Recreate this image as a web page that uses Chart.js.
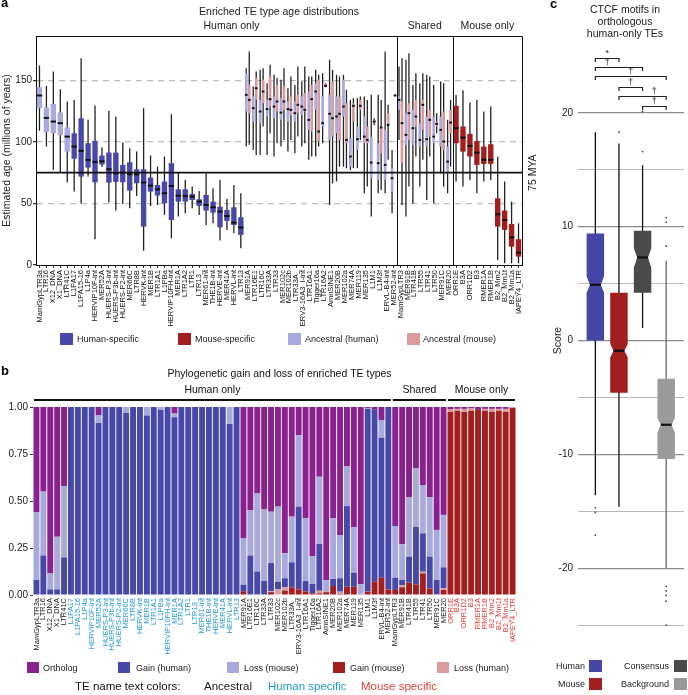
<!DOCTYPE html>
<html>
<head>
<meta charset="utf-8">
<script src="https://cdn.jsdelivr.net/npm/chart.js@4.4.1/dist/chart.umd.min.js"></script>
<style>
  html, body { margin: 0; padding: 0; background: #fff; }
  #fig { position: relative; width: 688px; height: 695px; overflow: hidden; background: #fff;
         font-family: 'Liberation Sans', Arial, sans-serif; color: #222; }
  #fig canvas { position: absolute; }
  .t { position: absolute; white-space: nowrap; line-height: 1; }
  .sw { position: absolute; }
</style>
</head>
<body>
<div id="fig">
  <canvas id="chartA" width="545" height="335" style="left:0;top:0"></canvas>
  <canvas id="chartB" width="545" height="300" style="left:0;top:360px"></canvas>
  <canvas id="chartC" width="143" height="695" style="left:545px;top:0"></canvas>

  <!-- panel letters -->
  <div class="t" style="left:1px;top:-4px;font-size:13px;font-weight:bold;color:#000">a</div>
  <div class="t" style="left:1px;top:364px;font-size:13px;font-weight:bold;color:#000">b</div>
  <div class="t" style="left:550px;top:-3px;font-size:13px;font-weight:bold;color:#000">c</div>

  <!-- panel c title -->
  <div class="t" style="left:565px;top:4px;width:120px;text-align:center;font-size:10.5px;line-height:11.8px">CTCF motifs in<br>orthologous<br>human-only TEs</div>

  <div id="legendA"></div>
  <div id="legendB"></div>
  <div id="legendC"></div>
</div>

<script>
// ---- categories (panels a and b share the same TE order)
const teNames = [
  'MamGypLTR3a','LTR16','X12_DNA','X1_DNA','LTR41C','L1PA17','L1PA15-16','L1P4a','HERVIP10F-int','MER52A',
  'HUERS-P3-int','HUERS-P3b-int','HUERS-P2-int','MER66C','LTR8B','HERVK-int','MER1B','LTR1A1','L1PBa','HERVIP10FH-int',
  'MER1A','LTR1A2','LTR1','LTR13_','MER61-int','THE1B-int','HERVE-int','MER41A','HERVL-int','LTR13',
  'MER91A','LTR16E1','LTR16C','LTR33A','LTR33','MER102c','MER102b','LTR33A_','ERV3-16A3_I-int','LTR16A1',
  'Tigger16a','LTR16A2','AmnSINE1','MER20B','MER102a','MER74A','MER119','MER135','L1M1','L1M3f',
  'ERVL-B4-int','MER52-int','MamGypLTR3','MER91B','LTR41B','LTR55','LTR41','LTR50','MER91C','MER20',
  'ORR1E','B3A','ORR1D2','B3','RMER1A','RMER1B','B2_Mm2','B2_Mm1t','B2_Mm1a','IAPEY4_LTR'
];
// runs of TE class in the order above: ancestral / human specific / mouse specific
const classRuns = [['anc', 5], ['hum', 25], ['anc', 30], ['mou', 10]];
const facetNames = ['Human only', 'Shared', 'Mouse only'];
const facetSizes = [52, 8, 10];
const refAge = 75;

// ---- panel a: estimated age (millions of years), human-side boxes
const ageHumLo = [
  109,96.2,77.2,75,67,59.6,50,71.8,20.9,79.9,
  50.7,44.2,49.6,46.1,56.1,11.7,48,48.8,40.7,21.7,
  39.3,42,46.1,40.7,32.5,33.9,19.8,28.5,25.7,13.6,
  96.2,93.5,89.4,89.4,88.1,96.2,92.1,90.8,96.2,85.4,
  88.1,98.9,48.8,67.8,79.9,77.2,78.6,58.3,39.3,58.3,
  58.3,42,101.6,39.3,50,63.7,52.8,50,74.5,58.3,
  null,null,null,null,null,null,null,null,null,null
];
const ageHumQ1 = [
  127.4,107.9,107,105.4,92.1,86.4,71.8,79.1,67.2,81.6,
  66.9,67.5,67.2,60.4,66.4,31.2,59.6,56.4,50.1,36.6,
  51.5,51.5,52.8,48,44.2,42.5,30.6,35.8,32.5,24.4,
  124.7,116.5,115.2,120.6,119.2,117.9,116.5,116.5,121.9,109.8,
  126,112.5,101.6,107,120.6,79.9,93.5,98.9,70.5,69.1,
  69.1,59.6,126,97.6,97.6,96.2,96.2,98.9,96.2,74.5,
  null,null,null,null,null,null,null,null,null,null
];
const ageHumMed = [
  137.7,119.5,116.5,115.2,104.3,96.2,92.7,85.4,83.7,84.3,
  77.8,74.5,75,73.7,73.7,67,64.5,61.5,58.3,64.2,
  56.4,56.1,55.6,51.5,48.8,46.9,43.4,39.8,34.4,30.4,
  138.2,127.4,124.7,126.6,128.7,123.8,126.6,123.3,128.7,117.9,
  140.9,115.2,122.8,120.6,128.7,88.1,102.2,104.3,83.2,82.7,
  81.3,70.5,134.1,105.7,111.1,101.6,102.2,104.3,109.8,84,
  null,null,null,null,null,null,null,null,null,null
];
const ageHumQ3 = [
  144.4,128,130.9,124,111.7,107,119.2,98.9,100.8,88.9,
  91.3,91.3,81.3,83.5,77.8,77.8,71,65,67.8,82.7,
  61.5,61.5,57.7,53.4,56.9,51.5,47.4,44.7,46.9,38.8,
  155.8,136.9,134.1,134.1,136.9,135.5,132.8,132.8,136.9,140.9,
  147.7,136.9,138.2,136.9,150.4,103,112.5,120.6,104.3,98.9,
  109.8,78.6,136.9,123.3,126,115.2,120.6,120.6,120.6,96.2,
  null,null,null,null,null,null,null,null,null,null
];
const ageHumHi = [
  162,145.5,157.2,142.8,132.8,134,168,117.9,129.5,95.4,
  125.2,120.6,99.5,94.9,92.1,127.4,88.9,79.9,88.1,122.5,
  75.3,69.1,63.7,60.2,74.5,62.3,69.1,53.7,65,58.3,
  159.9,145,158.5,147.7,154.5,150.4,143.6,146.3,149.1,153.1,
  158.5,155.8,166.7,154.5,154.5,134.1,135.5,136.9,138.2,138.2,
  173.4,93.5,161.2,166.7,146.3,147.7,154.5,146.3,149.1,117.9,
  null,null,null,null,null,null,null,null,null,null
];

// ---- panel a: mouse-side boxes
const ageMouLo = [
  null,null,null,null,null,null,null,null,null,null,
  null,null,null,null,null,null,null,null,null,null,
  null,null,null,null,null,null,null,null,null,null,
  97.6,89.4,112.5,107,98.9,101.6,101.6,104.3,98.9,88.1,
  96.2,144.4,66.4,79.9,78.6,78.6,101.6,63.7,113.8,61,
  85.4,137.3,48.8,63.7,88.1,85.4,88.1,107,63.7,79.9,
  67.8,63.7,69,58.3,67.8,69.1,4,1.4,1.4,1.4
];
const ageMouQ1 = [
  null,null,null,null,null,null,null,null,null,null,
  null,null,null,null,null,null,null,null,null,null,
  null,null,null,null,null,null,null,null,null,null,
  123.3,134.1,131.4,128.7,124.7,126,121.9,123.3,124.7,108.4,
  100.3,144.4,104.3,101.6,98.9,116.5,126,98.9,115.2,90.8,
  113.8,137.5,82.7,101.6,112.5,109.8,104.3,112.5,93.5,107,
  98.9,92.1,88.1,81.3,82.1,82.1,31.2,28.5,14.9,6.8
];
const ageMouMed = [
  null,null,null,null,null,null,null,null,null,null,
  null,null,null,null,null,null,null,null,null,null,
  null,null,null,null,null,null,null,null,null,null,
  134.1,143.6,140.9,134.7,132.8,132.8,126,130.1,126,134.7,
  108.4,145.5,119.2,122.8,101.6,129.3,129.3,101.6,116.5,111.7,
  113.8,137.7,115.2,123.3,120.6,130.1,117.9,114.6,100.3,115.7,
  111.1,103.5,96.7,91.3,85.4,85.4,41.2,36.6,22.5,10
];
const ageMouQ3 = [
  null,null,null,null,null,null,null,null,null,null,
  null,null,null,null,null,null,null,null,null,null,
  null,null,null,null,null,null,null,null,null,null,
  146.3,151.8,150.4,153.1,146.3,145,136.9,138.2,139.6,146.3,
  150.4,147.2,149.1,136.9,131.4,131.4,134.1,112.5,117.9,112.5,
  123.3,138,132.8,131.4,134.1,134.1,126,116.5,124.7,126,
  129.3,112.5,106.5,100.8,96.2,98.1,54.2,44.2,33.3,20.9
];
const ageMouHi = [
  null,null,null,null,null,null,null,null,null,null,
  null,null,null,null,null,null,null,null,null,null,
  null,null,null,null,null,null,null,null,null,null,
  173.4,157.2,159.9,162.6,151.8,159.9,153.1,161.2,161.2,153.1,
  154.5,147.7,158.5,153.1,142.3,135.5,136.9,134.1,119.2,134.1,
  130.1,138.2,168,172,155.8,155.8,153.1,123.3,147.7,134.1,
  138,142,132,134,124.7,128.7,88,67.8,51.5,33.9
];

// ---- panel b: phylogenetic gain / loss fractions
const phyOrtho = [
  0.56,0.45,0.885,0.69,0.42,0,0,0,0,0.045,
  0,0,0,0,0,0,0,0,0,0,
  0.035,0,0,0,0,0,0,0,0,0,
  0.70,0.55,0.46,0.545,0.557,0.53,0.778,0.583,0.149,0.592,
  0.793,0.371,0.92,0.592,0.681,0.314,0.64,0.942,0.005,0.012,
  0.069,0,0.633,0.73,0.48,0.326,0.415,0.48,0.654,0.574,
  0.013,0.01,0.01,0.008,0.015,0.01,0.01,0.01,0.01,0
];
const phyGainH = [
  0.08,0.21,0.03,0.03,0.2,1,1,1,1,0.915,
  1,1,1,0.97,1,1,0.955,1,0.985,1,
  0.945,1,1,1,1,1,1,1,0.91,1,
  0.035,0.21,0.125,0.075,0.15,0.04,0.048,0.133,0.44,0.056,
  0.05,0.248,0,0.037,0.071,0.429,0.075,0,0.973,0.917,
  0.745,0.97,0.065,0.027,0.138,0.306,0.204,0.169,0.076,0.112,
  0,0,0,0,0,0,0,0,0,0
];
const phyLossM = [
  0.36,0.34,0.085,0.28,0.38,0,0,0,0,0.04,
  0,0,0,0.03,0,0,0.045,0,0.015,0,
  0.02,0,0,0,0,0,0,0,0.09,0,
  0.245,0.24,0.415,0.38,0.273,0.40,0.133,0.243,0.381,0.334,
  0.148,0.358,0.06,0.323,0.23,0.213,0.241,0.058,0.004,0,
  0.094,0,0.275,0.19,0.316,0.311,0.257,0.316,0.266,0.279,
  0,0,0,0,0,0,0,0,0,0
];
const phyGainM = [
  0,0,0,0,0,0,0,0,0,0,
  0,0,0,0,0,0,0,0,0,0,
  0,0,0,0,0,0,0,0,0,0,
  0.02,0,0,0,0.015,0,0.023,0.041,0.03,0.018,
  0.009,0.009,0.015,0.048,0.005,0.044,0.044,0,0.018,0.071,
  0.092,0.03,0.027,0.041,0.066,0.057,0.115,0.035,0.004,0.027,
  0.975,0.98,0.975,0.98,0.985,0.98,0.975,0.98,0.975,0.995
];
const phyLossH = [
  0,0,0,0,0,0,0,0,0,0,
  0,0,0,0,0,0,0,0,0,0,
  0,0,0,0,0,0,0,0,0,0,
  0,0,0,0,0.005,0.03,0.018,0,0,0,
  0,0.014,0.005,0,0.013,0,0,0,0,0,
  0,0,0,0.012,0,0,0.009,0,0,0.008,
  0.012,0.01,0.015,0.012,0,0.01,0.015,0.01,0.015,0.005
];

// ---- panel c: CTCF motif scores
const ctcfGroups = ['Human', 'Mouse', 'Consensus', 'Background'];
const ctcfLo      = [-13.6, -14.6, 1.1, -20];
const ctcfQ1      = [0, -4.6, 4.2, -10.4];
const ctcfNotchLo = [4.2, -1.5, 6.4, -8.1];
const ctcfMed     = [4.9, -0.9, 7.3, -7.4];
const ctcfNotchHi = [5.65, -0.3, 8.1, -6.8];
const ctcfQ3      = [9.4, 4.2, 9.65, -3.35];
const ctcfHi      = [18.3, 17.3, 15.4, 7.0];
const ctcfOutliers = [[-14.7, -15.1, -17.1], [18.3], [16.6, 20.1], [10.8, 10.4, 8.3, -21.6, -22.0, -22.4, -22.9, -25.0]];
const sigFrom  = [0, 0, 0, 1, 1, 2];
const sigTo    = [1, 2, 3, 2, 3, 3];
const sigLevel = [24.8, 24.0, 23.2, 22.3, 21.5, 20.6];
const sigText  = ['*', '\u2020', '\u2020', '\u2020', '\u2020', '\u2020'];
const sigLabelAt = [0.5, 0.5, 1.5, 1.5, 2.5, 2.5];

// ---- colours
const COL = {
  humSpec: '#4848a8', mouSpec: '#a31e1e', ancHum: '#a8a9dc', ancMou: '#d99b9b', ortho: '#89218f'
};
const nameColors = { anc: '#1a1a1a', hum: '#2399d4', mou: '#e6403a' };
const ctcfColors = ['#4646a6', '#a21f1f', '#4a4a4a', '#9a9a9a'];
const FONT = "'Liberation Sans', Arial, sans-serif";

Chart.defaults.font.family = FONT;
Chart.defaults.color = '#222';

const teClass = classRuns.flatMap(([c, n]) => Array(n).fill(c));
const pair = (a, b) => a.map((v, i) => v == null ? null : [v, b[i]]);
const medBar = m => m.map(v => v == null ? null : [v - 0.8, v + 0.8]);

// ================= panel a =================
const frameA = {
  id: 'frameA',
  afterDatasetsDraw(chart) {
    const { ctx, chartArea: a, scales: { x, y } } = chart;
    const half = (x.getPixelForValue(1) - x.getPixelForValue(0)) / 2;
    ctx.save();
    ctx.strokeStyle = '#111';
    ctx.lineWidth = 1.6;
    const y75 = y.getPixelForValue(refAge);
    ctx.beginPath(); ctx.moveTo(a.left, y75); ctx.lineTo(a.right, y75); ctx.stroke();

    ctx.lineWidth = 1;
    ctx.beginPath();
    let idx = 0;
    facetSizes.slice(0, -1).forEach(n => {
      idx += n;
      const px = Math.round(x.getPixelForValue(idx) - half) + 0.5;
      ctx.moveTo(px, a.top); ctx.lineTo(px, a.bottom);
    });
    ctx.moveTo(a.left, a.top + 0.5); ctx.lineTo(a.right + 0.5, a.top + 0.5); ctx.lineTo(a.right + 0.5, a.bottom);
    ctx.stroke();

    ctx.fillStyle = '#222';
    ctx.font = '10.5px ' + FONT;
    ctx.textAlign = 'center';
    ctx.textBaseline = 'middle';
    ctx.fillText('Enriched TE type age distributions', (a.left + a.right) / 2, 12.5);
    const shift = [15, 0, 0];
    let start = 0;
    facetNames.forEach((name, k) => {
      const end = start + facetSizes[k] - 1;
      const cx = (x.getPixelForValue(start) + x.getPixelForValue(end)) / 2 + shift[k];
      ctx.fillText(name, cx, 26);
      start = end + 1;
    });
    ctx.translate(a.right + 11, y75);
    ctx.rotate(-Math.PI / 2);
    ctx.fillText('75 MYA', 0, 0);
    ctx.restore();
  }
};

new Chart(document.getElementById('chartA'), {
  type: 'bar',
  data: {
    labels: teNames,
    datasets: [
      { data: medBar(ageHumMed), stack: 'h', order: 1, backgroundColor: '#111' },
      { data: medBar(ageMouMed), stack: 'm', order: 1, backgroundColor: '#111' },
      { data: pair(ageHumQ1, ageHumQ3), stack: 'h', order: 2,
        backgroundColor: teClass.map(c => c === 'hum' ? COL.humSpec : COL.ancHum) },
      { data: pair(ageMouQ1, ageMouQ3), stack: 'm', order: 2,
        backgroundColor: teClass.map(c => c === 'mou' ? COL.mouSpec : COL.ancMou) },
      { data: pair(ageHumLo, ageHumHi), stack: 'h', order: 3, backgroundColor: '#222', maxBarThickness: 1.3 },
      { data: pair(ageMouLo, ageMouHi), stack: 'm', order: 3, backgroundColor: '#222', maxBarThickness: 1.3 }
    ]
  },
  options: {
    responsive: false, animation: false, events: [],
    layout: { padding: { top: 36, right: 23, left: 0, bottom: 0 } },
    datasets: { bar: { skipNull: true, categoryPercentage: 0.86, barPercentage: 0.9, borderWidth: 0, inflateAmount: 0 } },
    plugins: { legend: { display: false }, tooltip: { enabled: false } },
    scales: {
      x: {
        ticks: { autoSkip: false, minRotation: 90, maxRotation: 90, font: { size: 7.5 }, color: '#111', padding: 2 },
        grid: { drawOnChartArea: false, offset: false, tickLength: 3, tickColor: '#333' },
        border: { color: '#111', width: 1 },
        afterFit: s => { s.height = 70; }
      },
      y: {
        stacked: false, min: 0, max: 186,
        ticks: { stepSize: 50, includeBounds: false, font: { size: 10 }, color: '#222', padding: 1 },
        grid: { color: c => (c.tick && c.tick.value === 0) ? 'rgba(0,0,0,0)' : '#bdbdbd', lineWidth: 1.2,
                tickLength: 3, tickColor: '#333', tickBorderDash: [1, 0] },
        border: { color: '#111', width: 1, dash: [6, 5] },
        title: { display: true, text: 'Estimated age (millions of years)', font: { size: 10.5 }, color: '#222', padding: { top: 1, bottom: 1 } },
        afterFit: s => { s.width = 36; }
      }
    }
  },
  plugins: [frameA]
});

// ================= panel b =================
const facetB = {
  id: 'facetB',
  afterDraw(chart) {
    const { ctx, chartArea: a, scales: { x } } = chart;
    const half = (x.getPixelForValue(1) - x.getPixelForValue(0)) / 2;
    ctx.save();
    ctx.fillStyle = '#111';
    ctx.font = '10.5px ' + FONT;
    ctx.textAlign = 'center';
    ctx.textBaseline = 'middle';
    ctx.fillText('Phylogenetic gain and loss of enriched TE types', (a.left + a.right) / 2 + 5, a.top - 33);
    let start = 0;
    facetNames.forEach((name, k) => {
      const end = start + facetSizes[k] - 1;
      const x1 = x.getPixelForValue(start) - half + 1;
      const x2 = x.getPixelForValue(end) + half - 1;
      ctx.fillRect(x1, a.top - 8, x2 - x1, 2);
      ctx.fillText(name, (x1 + x2) / 2, a.top - 16.5);
      start = end + 1;
    });
    ctx.restore();
  }
};

new Chart(document.getElementById('chartB'), {
  type: 'bar',
  data: {
    labels: teNames,
    datasets: [
      { label: 'Gain (mouse)', data: phyGainM, backgroundColor: COL.mouSpec },
      { label: 'Loss (human)', data: phyLossH, backgroundColor: COL.ancMou },
      { label: 'Gain (human)', data: phyGainH, backgroundColor: COL.humSpec },
      { label: 'Loss (mouse)', data: phyLossM, backgroundColor: COL.ancHum },
      { label: 'Ortholog', data: phyOrtho, backgroundColor: COL.ortho }
    ]
  },
  options: {
    responsive: false, animation: false, events: [],
    layout: { padding: { top: 47, right: 29, left: 0, bottom: 0 } },
    datasets: { bar: { categoryPercentage: 1, barPercentage: 0.86, borderWidth: 0, inflateAmount: 0 } },
    plugins: { legend: { display: false }, tooltip: { enabled: false } },
    scales: {
      x: {
        stacked: true,
        ticks: { autoSkip: false, minRotation: 90, maxRotation: 90, font: { size: 7.5 }, padding: 3,
                 color: c => nameColors[teClass[c.index]] },
        grid: { display: false, drawTicks: false },
        border: { display: false },
        afterFit: s => { s.height = 65; }
      },
      y: {
        stacked: true, min: 0, max: 1,
        ticks: { stepSize: 0.25, callback: v => v.toFixed(2), font: { size: 10 }, color: '#222', padding: 2 },
        grid: { drawOnChartArea: false, tickLength: 3, tickColor: '#333' },
        border: { display: false },
        afterFit: s => { s.width = 33; }
      }
    }
  },
  plugins: [facetB]
});

// ================= panel c =================
const boxC = {
  id: 'boxC',
  afterDatasetsDraw(chart) {
    const { ctx, scales: { x, y } } = chart;
    const step = x.getPixelForValue(1) - x.getPixelForValue(0);
    const hw = step * 0.37, nw = hw * 0.62;
    ctx.save();
    ctcfGroups.forEach((g, i) => {
      const xc = x.getPixelForValue(i);
      const yq1 = y.getPixelForValue(ctcfQ1[i]), yq3 = y.getPixelForValue(ctcfQ3[i]);
      const ym = y.getPixelForValue(ctcfMed[i]);
      const ynl = y.getPixelForValue(ctcfNotchLo[i]), ynh = y.getPixelForValue(ctcfNotchHi[i]);
      ctx.fillStyle = ctcfColors[i];
      ctx.beginPath();
      ctx.moveTo(xc - hw, yq3); ctx.lineTo(xc + hw, yq3); ctx.lineTo(xc + hw, ynh);
      ctx.lineTo(xc + nw, ym); ctx.lineTo(xc + hw, ynl); ctx.lineTo(xc + hw, yq1);
      ctx.lineTo(xc - hw, yq1); ctx.lineTo(xc - hw, ynl); ctx.lineTo(xc - nw, ym);
      ctx.lineTo(xc - hw, ynh); ctx.closePath(); ctx.fill();
      ctx.fillStyle = '#111';
      ctx.fillRect(xc - nw, ym - 1.1, 2 * nw, 2.2);
    });
    ctx.strokeStyle = '#222';
    ctx.fillStyle = '#222';
    ctx.lineWidth = 1.2;
    ctx.font = '9px ' + FONT;
    ctx.textAlign = 'center';
    ctx.textBaseline = 'middle';
    sigFrom.forEach((f, k) => {
      const x1 = x.getPixelForValue(f), x2 = x.getPixelForValue(sigTo[k]);
      const yy = Math.round(y.getPixelForValue(sigLevel[k])) + 0.5;
      ctx.beginPath();
      ctx.moveTo(x1, yy + 3.5); ctx.lineTo(x1, yy); ctx.lineTo(x2, yy); ctx.lineTo(x2, yy + 3.5);
      ctx.stroke();
      ctx.fillText(sigText[k], x.getPixelForValue(sigLabelAt[k]), yy - 4.5);
    });
    ctx.restore();
  }
};

new Chart(document.getElementById('chartC'), {
  type: 'bar',
  data: {
    datasets: [
      { type: 'bar', data: ctcfGroups.map((g, i) => ({ x: i, y: [ctcfLo[i], ctcfHi[i]] })),
        backgroundColor: ['#111', '#111', '#111', '#6a6a6a'], maxBarThickness: 1.3, borderWidth: 0, inflateAmount: 0 },
      { type: 'scatter', data: ctcfOutliers.flatMap((arr, i) => arr.map(v => ({ x: i, y: v }))),
        pointRadius: 0.9, backgroundColor: '#444', borderWidth: 0 }
    ]
  },
  options: {
    responsive: false, animation: false, events: [],
    layout: { padding: { top: 40, right: 0, left: 0, bottom: 54 } },
    plugins: { legend: { display: false }, tooltip: { enabled: false } },
    scales: {
      x: { type: 'linear', min: -0.735, max: 3.755, offset: false, display: false },
      y: {
        stacked: false, min: -26.4, max: 26.4,
        ticks: { stepSize: 5, includeBounds: false, callback: v => v % 10 === 0 ? v : '', font: { size: 10 }, color: '#222', padding: 5 },
        grid: { color: c => (c.tick.value > 20) ? 'rgba(0,0,0,0)' : (c.tick.value % 10 === 0 ? '#8c8c8c' : '#b8b8b8'),
                lineWidth: c => (c.tick.value % 10 === 0 ? 1.3 : 1), drawTicks: false },
        border: { display: false },
        title: { display: true, text: 'Score', font: { size: 10.5 }, color: '#222', padding: { top: 7, bottom: 0 } },
        afterFit: s => { s.width = 33; }
      }
    }
  },
  plugins: [boxC]
});

// ================= legends (HTML) =================
function addSwatch(parent, left, top, w, h, color) {
  const d = document.createElement('div');
  d.className = 'sw';
  d.style.cssText = `left:${left}px;top:${top}px;width:${w}px;height:${h}px;background:${color}`;
  parent.appendChild(d);
}
function addText(parent, css, text) {
  const d = document.createElement('div');
  d.className = 't';
  d.style.cssText = css;
  d.textContent = text;
  parent.appendChild(d);
}

const legA = document.getElementById('legendA');
[['Human-specific', COL.humSpec, 60, 77], ['Mouse-specific', COL.mouSpec, 178, 195],
 ['Ancestral (human)', COL.ancHum, 288, 305], ['Ancestral (mouse)', COL.ancMou, 407, 423]]
  .forEach(([t, c, sx, tx]) => {
    addSwatch(legA, sx, 333, 13, 12, c);
    addText(legA, `left:${tx}px;top:334.5px;font-size:9px`, t);
  });

const legB = document.getElementById('legendB');
[['Ortholog', COL.ortho, 27, 43], ['Gain (human)', COL.humSpec, 118, 136], ['Loss (mouse)', COL.ancHum, 227, 244],
 ['Gain (mouse)', COL.mouSpec, 333, 350], ['Loss (human)', COL.ancMou, 437, 454]]
  .forEach(([t, c, sx, tx]) => {
    addSwatch(legB, sx, 662, 12, 11, c);
    addText(legB, `left:${tx}px;top:663.5px;font-size:9px`, t);
  });
addText(legB, 'left:75px;top:681px;font-size:11.5px;color:#111', 'TE name text colors:');
addText(legB, `left:204px;top:681px;font-size:11.5px;color:${nameColors.anc}`, 'Ancestral');
addText(legB, `left:268px;top:681px;font-size:11.5px;color:${nameColors.hum}`, 'Human specific');
addText(legB, `left:361px;top:681px;font-size:11.5px;color:${nameColors.mou}`, 'Mouse specific');

const legC = document.getElementById('legendC');
[['Human', ctcfColors[0], 103, 589, 660], ['Mouse', ctcfColors[1], 103, 589, 678],
 ['Consensus', ctcfColors[2], 19, 674, 660], ['Background', ctcfColors[3], 19, 674, 678]]
  .forEach(([t, c, right, sx, sy]) => {
    addSwatch(legC, sx, sy, 13, 12, c);
    addText(legC, `right:${right}px;top:${sy + 1.5}px;font-size:9px`, t);
  });
</script>
</body>
</html>
